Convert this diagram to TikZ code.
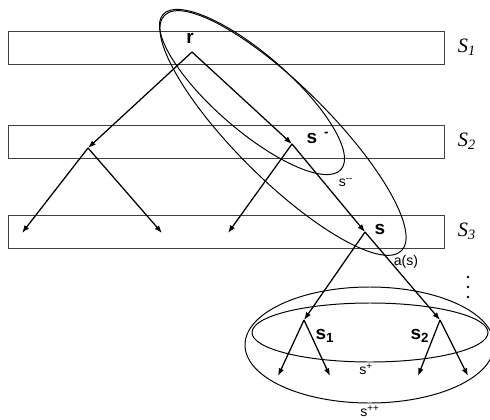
\documentclass[tikz,border=0pt]{standalone}
\usepackage{fontspec}
\setmainfont{Liberation Serif}
\setsansfont{Liberation Sans}
\usetikzlibrary{arrows.meta, positioning}

\begin{document}
\begin{tikzpicture}[
  x=0.025cm, y=-0.025cm,
  band/.style={draw=black!75, line width=0.6pt, minimum width=10.9cm,
               minimum height=0.825cm, inner sep=0pt},
  edge/.style={-{Latex[length=5.5pt,width=4pt]}, line width=0.9pt},
  set/.style={draw, line width=0.7pt},
  vlab/.style={font=\sffamily\bfseries\fontsize{13.5}{16}\selectfont, inner sep=0pt},
  slab/.style={font=\sffamily\fontsize{10}{12}\selectfont, inner sep=0pt},
  lvl/.style={font=\itshape\fontsize{14.5}{16}\selectfont, inner sep=0pt},
]
\useasboundingbox (0,0) rectangle (490,419);

% levels
\node[band] (L1) at (226,47.5) {};
\node[band] (L2) at (226,141.5) {};
\node[band] (L3) at (226,231.5) {};
\node[lvl, right=0.33cm of L1] (S1) {S\textsubscript{1}};
\node[lvl, right=0.33cm of L2] (S2) {S\textsubscript{2}};
\node[lvl, right=0.33cm of L3] (S3) {S\textsubscript{3}};

% tree
\coordinate (r)  at (192,52);
\coordinate (u)  at (88,148);
\coordinate (u1) at (22,233);
\coordinate (u2) at (162,233);
\coordinate (sm) at (292,144);
\coordinate (w1) at (228,233);
\coordinate (s)  at (365,232);
\coordinate (s1) at (304,320);
\coordinate (s2) at (440,320);
\coordinate (a1) at (278,376);
\coordinate (a2) at (330,376);
\coordinate (b1) at (418,376);
\coordinate (b2) at (468,376);

\draw[edge] (r) -- (u);
\draw[edge] (u) -- (u1);
\draw[edge] (u) -- (u2);
\draw[edge] (r) -- (sm);
\draw[edge] (sm) -- (w1);
\draw[edge] (sm) -- (s);
\draw[edge] (s) -- (s1);
\draw[edge] (s) -- (s2);
\draw[edge] (s1) -- (a1);
\draw[edge] (s1) -- (a2);
\draw[edge] (s2) -- (b1);
\draw[edge] (s2) -- (b2);

\node[vlab] (rlab)  at (190,38)  {r};
\node[vlab] (smlab) at (318,138) {s\hspace{5pt}\textsuperscript{-}};
\node[vlab] (slab)  at (380,229) {s};
\node[vlab] (s1lab) at (325,336) {s\textsubscript{1}};
\node[vlab] (s2lab) at (420,336) {s\textsubscript{2}};

% sets
\draw[set, rotate around={-41:(252,92)}] (252,92) ellipse [x radius=118, y radius=38];
\draw[set, rotate around={-44.8:(283,133)}] (283,133) ellipse [x radius=167, y radius=47];
\draw[set] (370,332.5) ellipse [x radius=118, y radius=29.5];
\draw[set] (369.5,345) ellipse [x radius=124.5, y radius=58];

\node[slab] (smmlab) at (346,183) {s\textsuperscript{-{}-}};
\node[slab] (alab)   at (406,262) {a(s)};
\node[slab] (plab)   at (366,369) {s\textsuperscript{+}};
\node[slab] (pplab)  at (370,411) {s\textsuperscript{++}};

% more levels
\foreach \y in {277,287,297}
  \fill (468,\y) circle [radius=1.4];

\end{tikzpicture}
\end{document}
